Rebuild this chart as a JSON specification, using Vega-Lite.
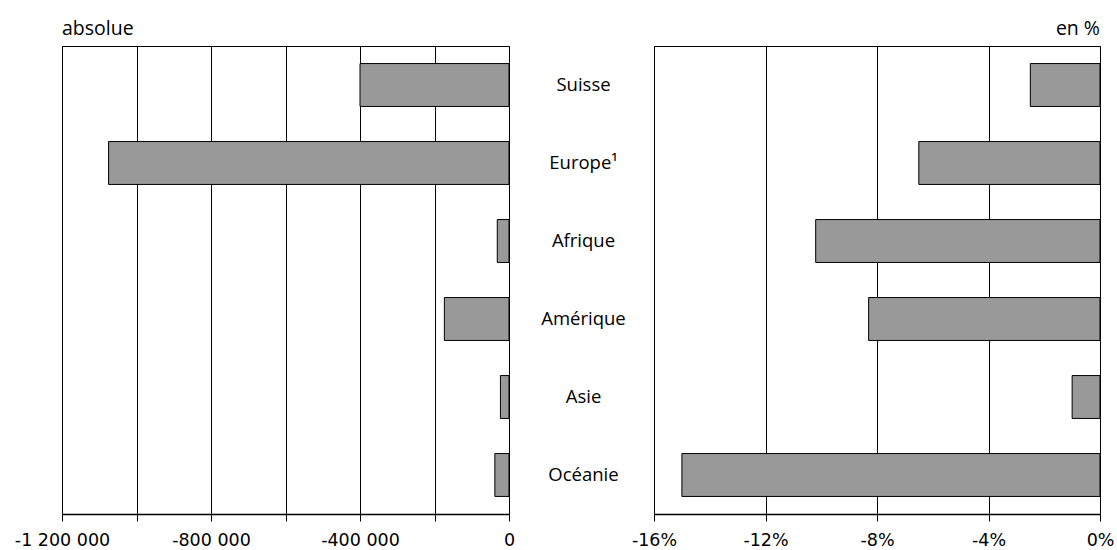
{
  "$schema": "https://vega.github.io/schema/vega-lite/v6.json",
  "padding": {"left": 13, "top": 18, "right": 5, "bottom": 0},
  "data": {"values": [
    {"region": "Suisse", "abs": -400000, "pct": -2.5},
    {"region": "Europe¹", "abs": -1075000, "pct": -6.5},
    {"region": "Afrique", "abs": -31500, "pct": -10.2},
    {"region": "Amérique", "abs": -173500, "pct": -8.3},
    {"region": "Asie", "abs": -23000, "pct": -1.0},
    {"region": "Océanie", "abs": -38000, "pct": -15.0}
  ]},
  "spacing": 145,
  "bounds": "flush",
  "hconcat": [
    {
      "width": 447,
      "height": 468,
      "title": {"text": "absolue", "anchor": "start", "frame": "group", "offset": 7},
      "mark": {"type": "bar", "fill": "#999999", "stroke": "#000000", "strokeWidth": 1},
      "encoding": {
        "y": {"field": "region", "type": "nominal", "sort": null, "axis": null,
              "scale": {"paddingInner": 0.45, "paddingOuter": 0.225}},
        "x": {"field": "abs", "type": "quantitative",
              "scale": {"domain": [-1200000, 0], "nice": false},
              "axis": {"values": [-1200000, -1000000, -800000, -600000, -400000, -200000, 0],
                       "labelExpr": "datum.value == 0 ? '0' : (datum.value % 400000 == 0 ? '-' + replace(format(-datum.value, ','), regexp(',', 'g'), ' ') : '')",
                       "title": null}}
      }
    },
    {
      "width": 446,
      "height": 468,
      "title": {"text": "en %", "anchor": "end", "frame": "group", "offset": 7},
      "mark": {"type": "bar", "fill": "#999999", "stroke": "#000000", "strokeWidth": 1},
      "encoding": {
        "y": {"field": "region", "type": "nominal", "sort": null,
              "scale": {"paddingInner": 0.45, "paddingOuter": 0.225},
              "axis": {"title": null, "domain": false, "ticks": false, "grid": false,
                       "labelAlign": "center", "labelPadding": 71,
                       "labelFont": "Open Sans", "labelFontSize": 18.5, "labelColor": "#000000"}},
        "x": {"field": "pct", "type": "quantitative",
              "scale": {"domain": [-16, 0], "nice": false},
              "axis": {"values": [-16, -12, -8, -4, 0],
                       "labelExpr": "datum.value == 0 ? '0%' : '-' + (-datum.value) + '%'",
                       "title": null}}
      }
    }
  ],
  "config": {
    "view": {"stroke": "#000000", "strokeWidth": 1},
    "title": {"font": "Open Sans", "fontSize": 19.5, "fontWeight": "normal", "color": "#000000"},
    "axisX": {
      "grid": true, "gridColor": "#000000", "gridWidth": 1, "gridOpacity": 1,
      "domain": true, "domainColor": "#000000", "domainWidth": 1.5,
      "ticks": true, "tickColor": "#000000", "tickSize": 7, "tickWidth": 1,
      "labelFont": "DejaVu Sans", "labelFontSize": 17.5, "labelColor": "#000000",
      "labelPadding": 10, "labelFlush": false, "labelOverlap": false
    }
  }
}
